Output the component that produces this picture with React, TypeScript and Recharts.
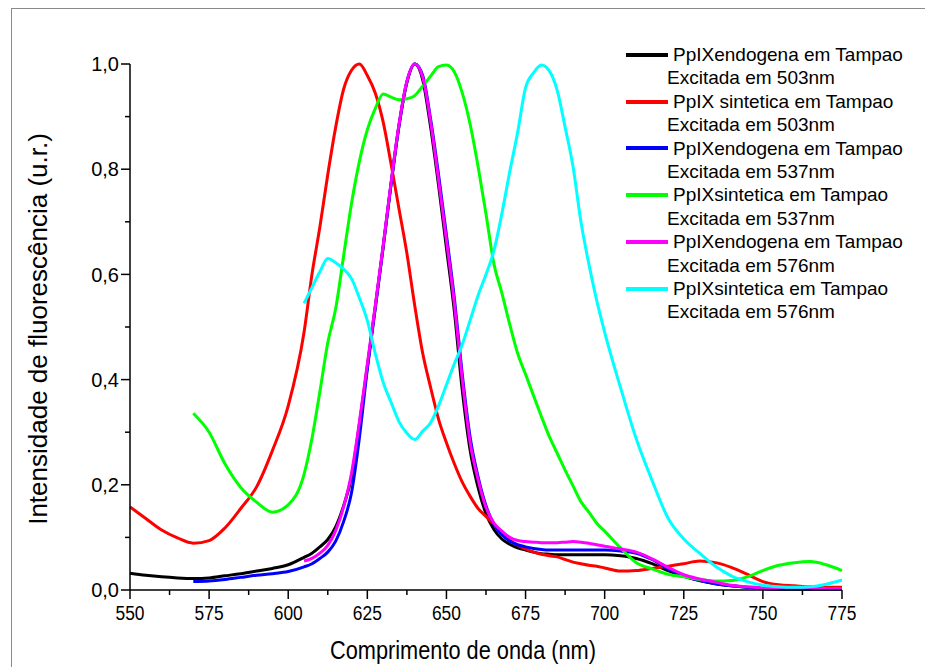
import { LineChart, Line, XAxis, YAxis, Legend } from "recharts";

const FONT = '"Liberation Sans", Arial, sans-serif';

// comprimento de onda (nm)
const wavelengths = [
  550, 555, 560, 565, 570, 575, 580, 585, 590, 595, 600, 605,
  607.5, 610, 612.5, 615, 617.5, 620, 622.5, 625, 627.5, 630, 632.5, 635, 637.5, 640,
  642.5, 645, 647.5, 650, 652.5, 655, 657.5, 660, 662.5, 665, 667.5, 670, 672.5, 675,
  677.5, 680, 682.5, 685, 687.5, 690, 692.5, 695, 697.5, 700,
  705, 710, 715, 720, 725, 730, 735, 740, 745, 750, 755, 760, 765, 770, 775,
];

const endogena503 = [
  0.032, 0.028, 0.025, 0.023, 0.022, 0.023, 0.027, 0.031, 0.036, 0.041, 0.048, 0.062,
  0.07, 0.082, 0.096, 0.12, 0.16, 0.215, 0.315, 0.425, 0.538, 0.652, 0.772, 0.882, 0.965, 1.0,
  0.97, 0.88, 0.77, 0.65, 0.53, 0.38, 0.265, 0.195, 0.145, 0.115, 0.097, 0.087, 0.08, 0.076,
  0.072, 0.069, 0.068, 0.067, 0.067, 0.067, 0.067, 0.067, 0.067, 0.067,
  0.065, 0.06, 0.05, 0.037, 0.026, 0.018, 0.012, 0.008, 0.005, 0.003, 0.002, 0.002, 0.002, 0.002, 0.002,
];

const sintetica503 = [
  0.158, 0.136, 0.114, 0.099, 0.089, 0.094, 0.118, 0.155, 0.196, 0.265, 0.35, 0.49,
  0.6, 0.69, 0.79, 0.88, 0.952, 0.988, 1.0, 0.978, 0.945, 0.89, 0.81, 0.725, 0.64, 0.54,
  0.45, 0.385, 0.325, 0.28, 0.24, 0.205, 0.178, 0.155, 0.14, 0.125, 0.11, 0.095, 0.085, 0.078,
  0.072, 0.068, 0.065, 0.063, 0.058, 0.053, 0.05, 0.047, 0.045, 0.042,
  0.036, 0.037, 0.041, 0.045, 0.05, 0.055, 0.052, 0.043, 0.03, 0.016, 0.01, 0.008, 0.006, 0.005, 0.005,
];

const endogena537 = [
  null, null, null, null, 0.016, 0.017, 0.02, 0.024, 0.028, 0.031, 0.035, 0.044,
  0.05, 0.06, 0.072, 0.093, 0.13, 0.185, 0.29, 0.42, 0.535, 0.652, 0.772, 0.883, 0.966, 1.0,
  0.978, 0.895, 0.79, 0.675, 0.555, 0.41, 0.29, 0.215, 0.16, 0.125, 0.105, 0.093, 0.086, 0.082,
  0.079, 0.077, 0.076, 0.076, 0.076, 0.076, 0.076, 0.076, 0.076, 0.076,
  0.074, 0.07, 0.058, 0.04, 0.027, 0.018, 0.012, 0.008, 0.005, 0.003, 0.002, 0.002, 0.002, 0.002, 0.002,
];

const sintetica537 = [
  null, null, null, null, 0.336, 0.3, 0.24, 0.195, 0.167, 0.148, 0.162, 0.22,
  0.288, 0.377, 0.47, 0.535, 0.635, 0.735, 0.815, 0.875, 0.915, 0.943, 0.937, 0.932, 0.934, 0.94,
  0.958, 0.977, 0.995, 0.998, 0.985, 0.945, 0.885, 0.805, 0.715, 0.62, 0.565, 0.505, 0.45, 0.41,
  0.37, 0.33, 0.292, 0.26, 0.228, 0.198, 0.168, 0.148, 0.127, 0.112,
  0.08, 0.052, 0.04, 0.03, 0.025, 0.02, 0.017, 0.018, 0.025, 0.037, 0.047, 0.052, 0.054, 0.048, 0.037,
];

const endogena576 = [
  null, null, null, null, null, null, null, null, null, null, null, 0.055,
  0.06, 0.07, 0.085, 0.113, 0.158, 0.222, 0.32, 0.43, 0.54, 0.655, 0.775, 0.885, 0.967, 1.0,
  0.975, 0.89, 0.78, 0.665, 0.545, 0.4, 0.28, 0.21, 0.157, 0.127, 0.112, 0.1, 0.094, 0.092,
  0.091, 0.09, 0.09, 0.09, 0.091, 0.092, 0.091, 0.089, 0.086, 0.083,
  0.078, 0.072, 0.059, 0.043, 0.029, 0.021, 0.015, 0.009, 0.006, 0.004, 0.003, 0.003, 0.003, 0.003, 0.003,
];

const sintetica576 = [
  null, null, null, null, null, null, null, null, null, null, null, 0.545,
  0.575, 0.605, 0.63, 0.622, 0.61, 0.592, 0.555, 0.512, 0.45, 0.395, 0.357, 0.32, 0.298, 0.286,
  0.302, 0.318, 0.35, 0.39, 0.43, 0.467, 0.513, 0.56, 0.6, 0.645, 0.715, 0.795, 0.87, 0.955,
  0.983, 0.998, 0.987, 0.95, 0.88, 0.805, 0.7, 0.62, 0.55, 0.49,
  0.385, 0.287, 0.208, 0.137, 0.097, 0.07, 0.045, 0.027, 0.016, 0.009, 0.006, 0.005, 0.006, 0.011, 0.019,
];

const seriesNames = [
  "PpIXendogena em Tampao",
  "PpIX sintetica em Tampao",
  "PpIXendogena em Tampao",
  "PpIXsintetica em Tampao",
  "PpIXendogena em Tampao",
  "PpIXsintetica em Tampao",
];
const excitation = ["503nm", "503nm", "537nm", "537nm", "576nm", "576nm"];
const colors = ["#000000", "#ff0000", "#0000ff", "#00ff00", "#ff00ff", "#00ffff"];
const seriesValues = [endogena503, sintetica503, endogena537, sintetica537, endogena576, sintetica576];

const xTicks = [550, 562.5, 575, 587.5, 600, 612.5, 625, 637.5, 650, 662.5, 675, 687.5, 700, 712.5, 725, 737.5, 750, 762.5, 775];
const yTicks = [0, 0.1, 0.2, 0.3, 0.4, 0.5, 0.6, 0.7, 0.8, 0.9, 1.0];

const data = wavelengths.map((w, i) => {
  const row: Record<string, number | null> = { w };
  seriesValues.forEach((s, k) => {
    row[`s${k}`] = s[i];
  });
  return row;
});

function XTick(props: any) {
  const { x, y, payload } = props;
  const major = (payload.value - 550) % 25 === 0;
  return (
    <g>
      <line x1={x} x2={x} y1={y} y2={y + (major ? 9 : 5)} stroke="#000" strokeWidth={1.5} />
      {major && (
        <text x={x} y={y + 30} textAnchor="middle" fontFamily={FONT} fontSize={20} fill="#000" textLength={29} lengthAdjust="spacingAndGlyphs">
          {payload.value}
        </text>
      )}
    </g>
  );
}

function YTick(props: any) {
  const { x, y, payload } = props;
  const major = Math.round(payload.value * 10) % 2 === 0;
  return (
    <g>
      <line x1={x} x2={x - (major ? 9 : 5)} y1={y} y2={y} stroke="#000" strokeWidth={1.5} />
      {major && (
        <text x={x - 11} y={y} dy="0.36em" textAnchor="end" fontFamily={FONT} fontSize={20} fill="#000">
          {payload.value.toFixed(1).replace(".", ",")}
        </text>
      )}
    </g>
  );
}

function renderLegend() {
  return (
    <div style={{ fontFamily: FONT, fontSize: 19, color: "#000", lineHeight: "23.4px", whiteSpace: "nowrap" }}>
      {seriesNames.map((name, i) => (
        <div key={i}>
          <div style={{ display: "flex", alignItems: "center" }}>
            <span style={{ display: "inline-block", width: 42, height: 4, background: colors[i] }} />
            <span style={{ marginLeft: 5 }}>{name}</span>
          </div>
          <div style={{ paddingLeft: 41 }}>Excitada em {excitation[i]}</div>
        </div>
      ))}
    </div>
  );
}

export default function App() {
  return (
    <div style={{ position: "absolute", left: 0, top: 0, width: 925, height: 667, overflow: "hidden", background: "#fff" }}>
      <div
        style={{
          position: "absolute",
          left: 11,
          top: 8,
          width: 914,
          height: 659,
          boxSizing: "border-box",
          borderLeft: "1px solid #8a8a8a",
          borderTop: "1px solid #8a8a8a",
        }}
      />
      <div style={{ position: "absolute", left: 0, top: 0 }}>
        <LineChart width={925} height={667} data={data} margin={{ top: 64, right: 83, bottom: 37, left: 70 }}>
          <XAxis
            dataKey="w"
            type="number"
            domain={[550, 775]}
            ticks={xTicks}
            interval={0}
            height={40}
            tickSize={0}
            tickMargin={0}
            tickLine={false}
            tick={<XTick />}
            axisLine={{ stroke: "#000", strokeWidth: 1.5 }}
            label={{
              content: () => (
                <text x={463} y={659} textAnchor="middle" fontFamily={FONT} fontSize={25} fill="#000" textLength={266} lengthAdjust="spacingAndGlyphs">
                  Comprimento de onda (nm)
                </text>
              ),
            }}
          />
          <YAxis
            type="number"
            domain={[0, 1]}
            ticks={yTicks}
            interval={0}
            width={60}
            tickSize={0}
            tickMargin={0}
            tickLine={false}
            tick={<YTick />}
            axisLine={{ stroke: "#000", strokeWidth: 1.5 }}
            label={{
              content: () => (
                <text
                  x={38}
                  y={329}
                  transform="rotate(-90 38 329)"
                  textAnchor="middle"
                  dominantBaseline="central"
                  fontFamily={FONT}
                  fontSize={26}
                  fill="#000"
                >
                  Intensidade de fluorescência (u.r.)
                </text>
              ),
            }}
          />
          <Legend
            layout="vertical"
            align="center"
            verticalAlign="middle"
            content={renderLegend}
            wrapperStyle={{ left: 626, top: 43, width: 295 }}
          />
          {seriesValues.map((_, k) => (
            <Line
              key={k}
              type="monotone"
              dataKey={`s${k}`}
              name={`${seriesNames[k]} Excitada em ${excitation[k]}`}
              stroke={colors[k]}
              strokeWidth={3}
              dot={false}
              activeDot={false}
              isAnimationActive={false}
            />
          ))}
        </LineChart>
      </div>
    </div>
  );
}
